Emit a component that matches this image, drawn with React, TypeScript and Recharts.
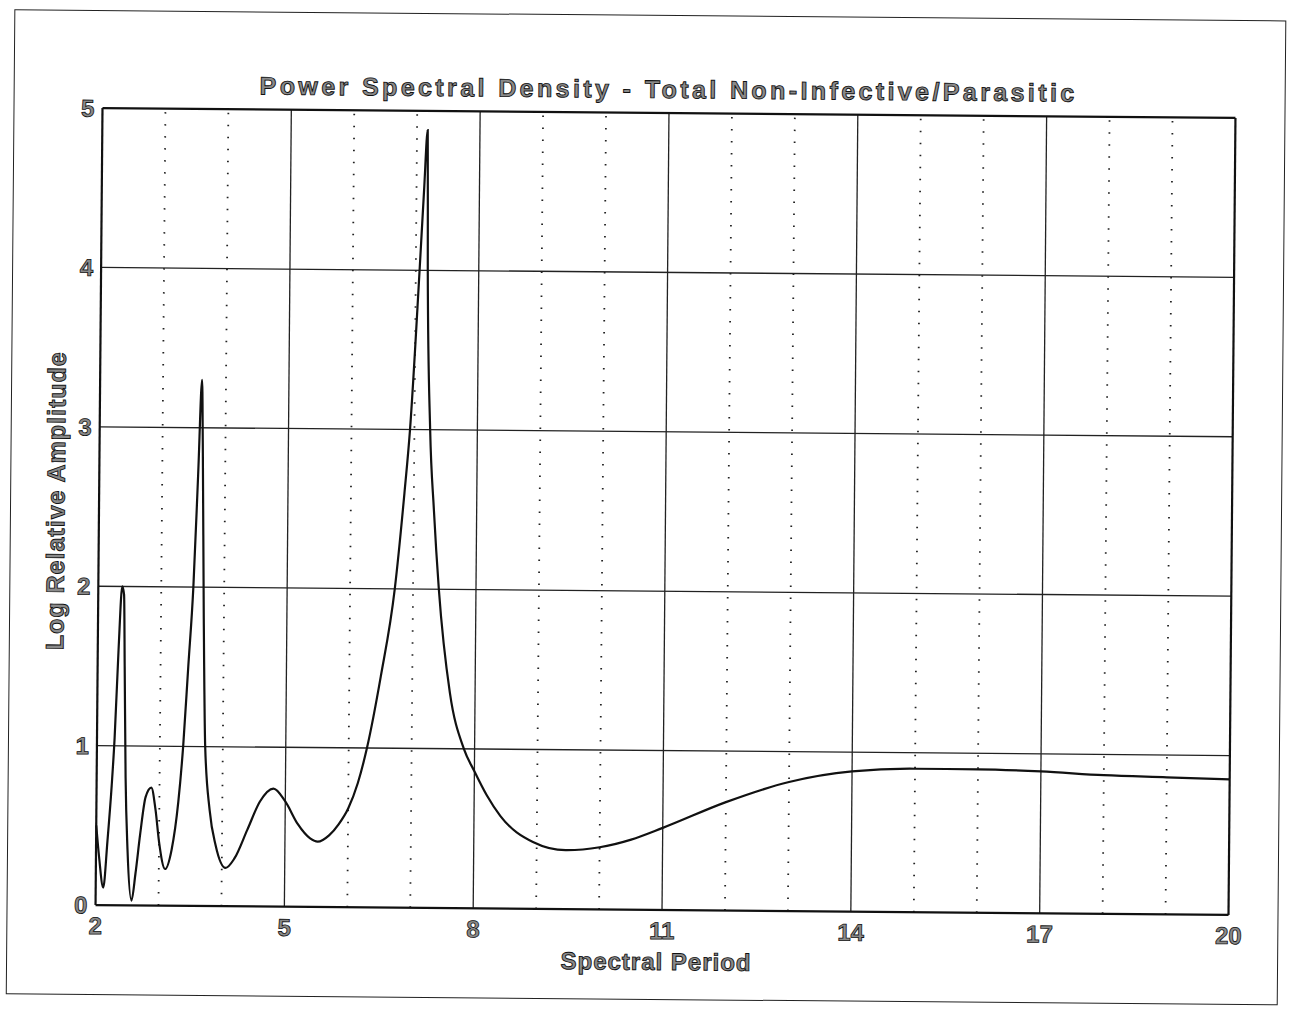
import React from 'react';
import { LineChart, Line, XAxis, YAxis, ReferenceLine } from 'recharts';

// spectral period (x) and log relative amplitude (y)
const periods = [
  2.0, 2.05, 2.12, 2.18, 2.24, 2.28, 2.33, 2.38, 2.41, 2.43, 2.46, 2.5, 2.57, 2.63, 2.7, 2.78, 2.87,
  2.94, 3.0, 3.1, 3.2, 3.3, 3.37, 3.44, 3.51, 3.57, 3.62, 3.64, 3.68, 3.72, 3.8, 3.9, 4.06, 4.2,
  4.4, 4.6, 4.81, 5.0, 5.2, 5.4, 5.52, 5.7, 5.85, 6.0, 6.15, 6.29, 6.5, 6.71, 6.85, 6.93, 7.06, 7.12,
  7.17, 7.19, 7.25, 7.32, 7.41, 7.6, 7.83, 8.0, 8.2, 8.42, 8.94, 9.46, 10.0, 10.5, 11, 12, 13, 14, 15,
  16, 17, 18, 19, 20,
];
const amplitudes = [
  0.5, 0.3, 0.11, 0.4, 0.75, 1.05, 1.6, 2.0, 1.95, 1.5, 0.8, 0.35, 0.03, 0.2, 0.45, 0.68, 0.74,
  0.6, 0.4, 0.23, 0.35, 0.65, 1.0, 1.5, 2.0, 2.7, 3.3, 2.9, 1.8, 1.0, 0.6, 0.38, 0.24, 0.3,
  0.48, 0.66, 0.74, 0.66, 0.52, 0.43, 0.41, 0.45, 0.52, 0.62, 0.78, 1.0, 1.45, 2.0, 2.6, 3.0, 4.0, 4.5,
  4.88, 4.0, 3.0, 2.5, 2.0, 1.35, 1.0, 0.86, 0.71, 0.58, 0.42, 0.37, 0.39, 0.44, 0.515, 0.68, 0.81, 0.88, 0.9,
  0.9, 0.89, 0.87, 0.86, 0.85,
];

const xTicks = [2, 5, 8, 11, 14, 17, 20];
const yTicks = [0, 1, 2, 3, 4, 5];
const solidX = [5, 8, 11, 14, 17];
const dottedX = [3, 4, 6, 7, 9, 10, 12, 13, 15, 16, 18, 19];
const solidY = [1, 2, 3, 4];

const data = periods.map((p, i) => ({ period: p, amp: amplitudes[i] }));

const textStyle = {
  fontFamily: '"Liberation Sans", Arial, sans-serif',
  fontWeight: 700,
  color: '#8a8a8a',
  WebkitTextStroke: '0.9px #111',
} as React.CSSProperties;

const tickProps = {
  fontFamily: '"Liberation Sans", Arial, sans-serif',
  fontWeight: 700,
  fontSize: 24,
  fill: '#8a8a8a',
  stroke: '#111',
  strokeWidth: 0.8,
};

const App = () => {
  return (
    <div style={{ position: 'absolute', left: 0, top: 0, width: 1289, height: 1009, overflow: 'hidden', background: '#fff' }}>
      <div style={{ position: 'absolute', left: 0, top: 0, width: 1289, height: 1009, transform: 'rotate(0.5deg)', transformOrigin: '665px 511px' }}>
        {/* page frame of the scanned sheet */}
        <div style={{ position: 'absolute', left: 10, top: 15, width: 1272, height: 985, border: '1.5px solid #222', boxSizing: 'border-box' }} />

        <LineChart width={1289} height={1009} data={data} margin={{ top: 113, right: 57, bottom: 69, left: 69 }}>
          <XAxis
            dataKey="period"
            type="number"
            domain={[2, 20]}
            ticks={xTicks}
            axisLine={false}
            tickLine={false}
            tickSize={0}
            tickMargin={12}
            height={30}
            tick={tickProps}
          />
          <YAxis
            type="number"
            domain={[0, 5]}
            ticks={yTicks}
            axisLine={false}
            tickLine={false}
            tickSize={0}
            tickMargin={8}
            width={30}
            tick={tickProps}
          />
          {dottedX.map((v) => (
            <ReferenceLine key={`d${v}`} x={v} stroke="#222" strokeWidth={1.8} strokeDasharray="1.5 10.5" />
          ))}
          {solidX.map((v) => (
            <ReferenceLine key={`sx${v}`} x={v} stroke="#222" strokeWidth={1.3} />
          ))}
          {solidY.map((v) => (
            <ReferenceLine key={`sy${v}`} y={v} stroke="#222" strokeWidth={1.3} />
          ))}
          <ReferenceLine y={0} stroke="#111" strokeWidth={2.2} />
          <ReferenceLine y={5} stroke="#111" strokeWidth={2.2} />
          <ReferenceLine x={2} stroke="#111" strokeWidth={2.2} />
          <ReferenceLine x={20} stroke="#111" strokeWidth={2.2} />
          <Line
            type="monotone"
            dataKey="amp"
            stroke="#111"
            strokeWidth={2.2}
            dot={false}
            isAnimationActive={false}
          />
        </LineChart>

        <div style={{ ...textStyle, position: 'absolute', left: 0, width: 1330, top: 75, textAlign: 'center', fontSize: 25, letterSpacing: 3.4 }}>
          Power Spectral Density - Total Non-Infective/Parasitic
        </div>
        <div style={{ ...textStyle, position: 'absolute', left: 0, width: 1320, top: 948, textAlign: 'center', fontSize: 24, letterSpacing: 1 }}>
          Spectral Period
        </div>
        <div
          style={{
            ...textStyle,
            position: 'absolute',
            left: 56,
            top: 506,
            fontSize: 25,
            letterSpacing: 1,
            whiteSpace: 'nowrap',
            transform: 'translate(-50%, -50%) rotate(-90deg)',
          }}
        >
          Log Relative Amplitude
        </div>
      </div>
    </div>
  );
};

export default App;
